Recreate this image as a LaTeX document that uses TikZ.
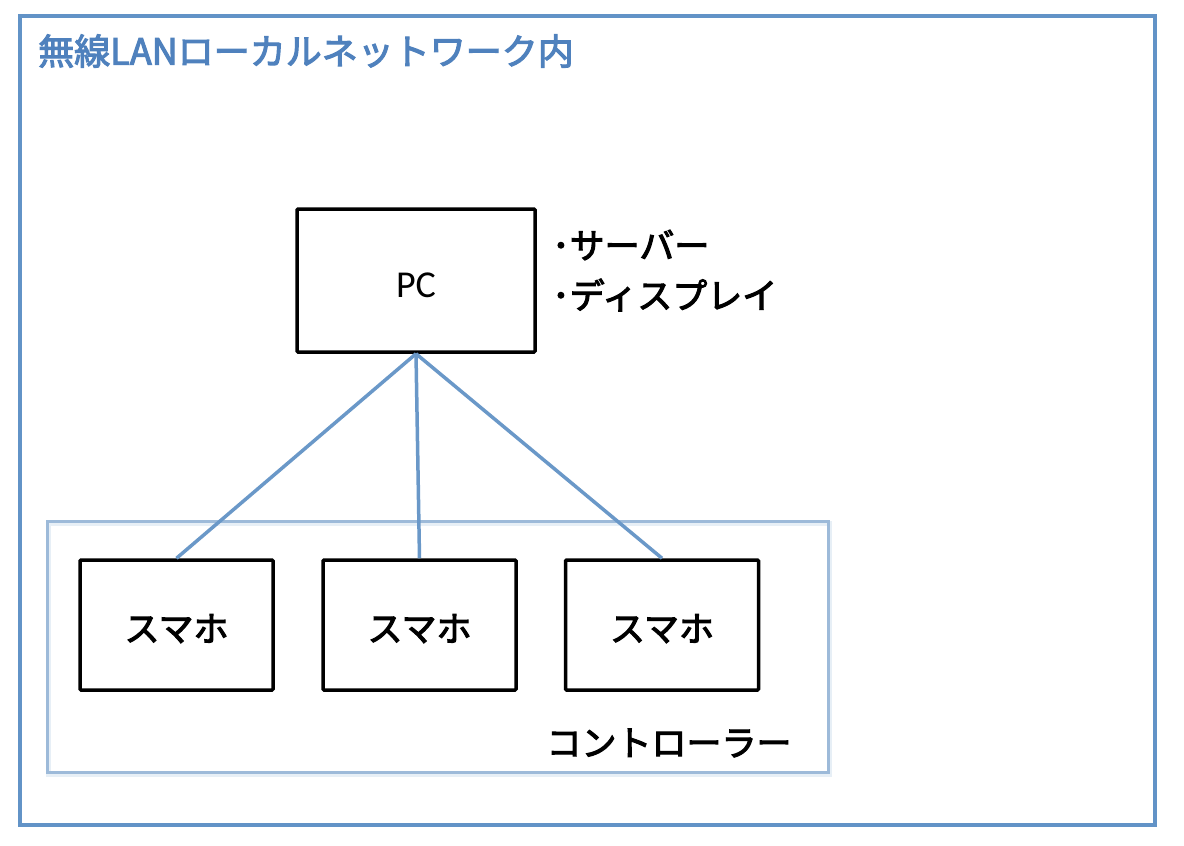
\documentclass[tikz,border=0pt]{standalone}
\usepackage{fontspec}
\setmainfont{Carlito}
\newfontfamily\jp[FakeBold=3]{Noto Sans CJK JP}
\usepackage{tikz}
\usetikzlibrary{arrows.meta}

\definecolor{lanblue}{HTML}{4F81BD}
\definecolor{framblue}{HTML}{6293C7}
\definecolor{grpblue}{HTML}{9DBAD9}
\definecolor{linkblue}{HTML}{6A98C8}

\begin{document}
\begin{tikzpicture}[x=1pt, y=-1pt,
    box/.style={draw, line width=3.5pt, rounded corners=1pt, minimum width=#1, minimum height=130pt, inner sep=0pt, text height=33pt, text depth=0pt},
    link/.style={draw=linkblue, line width=3.5pt},
    jtext/.style={font=\jp\fontsize{35}{42}\selectfont, inner sep=0pt}]
    \useasboundingbox (0, 0) rectangle (1184, 846);
    \draw[framblue, line width=4pt] (20, 16) rectangle (1155, 825);
    \node[jtext, anchor=west, text=lanblue, font=\jp\fontsize{36}{42}\selectfont] (title) at (38, 51) {無線LANローカルネットワーク内};
    \draw[grpblue!60, line width=5pt, opacity=0.4] (48, 523) rectangle (829, 774);
    \draw[grpblue, line width=3pt] (47, 521) rectangle (828, 772);
    \node[box=238pt, minimum height=143pt, font=\fontsize{38}{44}\selectfont] (pc) at (416, 280.5) {PC};
    \node[jtext, anchor=west] (srv) at (552, 245) {･サーバー};
    \node[jtext, anchor=west] (disp) at (552, 295) {･ディスプレイ};
    \node[box=193pt, jtext] (sm1) at (176.5, 625) {スマホ};
    \node[box=193pt, jtext] (sm2) at (419.5, 625) {スマホ};
    \node[box=193pt, jtext] (sm3) at (662, 625) {スマホ};
    \node[jtext] (ctrl) at (669, 743) {コントローラー};
    \draw[link] (pc.south) -- (sm1.north);
    \draw[link] (pc.south) -- (sm2.north);
    \draw[link] (pc.south) -- (sm3.north);
\end{tikzpicture}
\end{document}
